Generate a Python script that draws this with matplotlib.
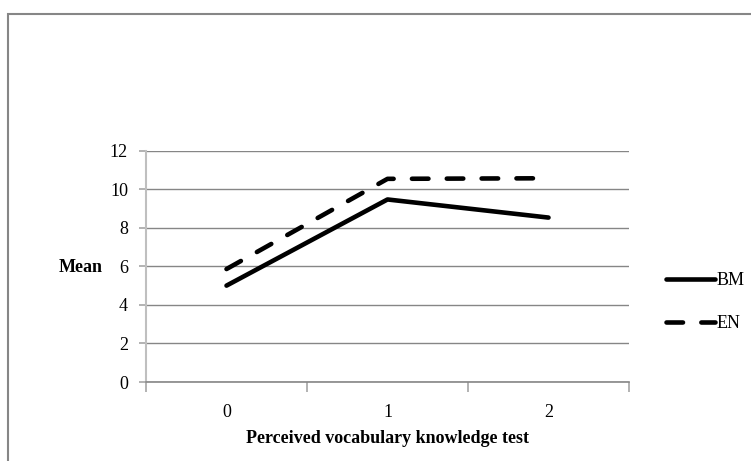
import matplotlib
matplotlib.use("Agg")
import matplotlib.pyplot as plt
from matplotlib.patches import Rectangle

# values
categories = ["0", "1", "2"]
bm_mean = [5.0, 9.47, 8.53]
en_mean = [5.86, 10.54, 10.57]
y_ticks = [0, 2, 4, 6, 8, 10, 12]

plt.rcParams['font.family'] = ['Liberation Serif', 'DejaVu Serif']

fig = plt.figure(figsize=(7.51, 4.61), dpi=100)
# outer chart border (only top and left visible in the crop)
fig.patches.append(Rectangle((8 / 751, -0.1), 1.2, 1 - 14 / 461 + 0.1,
                             transform=fig.transFigure, fill=False,
                             edgecolor='#868686', linewidth=1.5))

ax = fig.add_axes([146 / 751, 1 - 382 / 461, (629 - 146) / 751, (382 - 150.7) / 461])

x = list(range(len(categories)))
ax.plot(x, bm_mean, color='black', linewidth=3.3, solid_capstyle='round', label='BM')
ax.plot(x, en_mean, color='black', linewidth=3.3, dashes=(3.6, 4.0),
        dash_capstyle='round', label='EN')

ax.set_xlim(-0.5, len(categories) - 0.5)
ax.set_ylim(0, 12)
ax.set_yticks(y_ticks)
ax.set_xticks(x)
ax.set_xticklabels(categories)
ax.set_xticks([i - 0.5 for i in range(len(categories) + 1)], minor=True)
ax.tick_params(axis='x', which='major', length=0, pad=16, labelsize=13)
ax.tick_params(axis='x', which='minor', length=7, width=1.2, color='#a6a6a6', direction='out')
ax.tick_params(axis='y', length=5, width=1.2, color='#a6a6a6', pad=8, labelsize=13)

ax.grid(axis='y', color='#868686', linewidth=1)
ax.set_axisbelow(True)
for s in ['top', 'right']:
    ax.spines[s].set_visible(False)
ax.spines['left'].set_color('#bfbfbf')
ax.spines['left'].set_linewidth(1.5)
ax.spines['bottom'].set_color('#868686')
ax.spines['bottom'].set_linewidth(1.2)

ax.set_xlabel('Perceived vocabulary knowledge test', fontsize=13, fontweight='bold', labelpad=6)
ax.set_ylabel('Mean', fontsize=13, fontweight='bold', rotation=0, ha='center', va='center')
ax.yaxis.set_label_coords((81 - 146) / (629 - 146), (382 - 267) / (382 - 150.7))

ax.legend(loc='center left', bbox_to_anchor=(657 / 751, 1 - 302 / 461),
          bbox_transform=fig.transFigure, frameon=False, fontsize=13,
          handlelength=2.7, handletextpad=0.1, labelspacing=1.45, borderpad=0)

plt.savefig('out.png', dpi=100)
